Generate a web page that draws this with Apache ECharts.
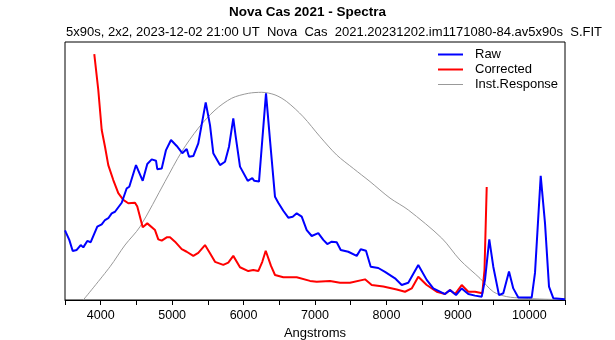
<!DOCTYPE html>
<html><head><meta charset="utf-8">
<script src="https://cdn.jsdelivr.net/npm/echarts@6/dist/echarts.min.js"></script>
<style>html,body{margin:0;padding:0;background:#fff}#c{width:615px;height:340px}</style>
</head><body><div id="c"></div>
<script>
const titleText = 'Nova Cas 2021 - Spectra';
const subText = '5x90s, 2x2, 2023-12-02 21:00 UT  Nova  Cas  2021.20231202.im1171080-84.av5x90s  S.FIT';
const xName = 'Angstroms';
const seriesNames = ['Raw', 'Corrected', 'Inst.Response'];
const xTicks = [4000, 5000, 6000, 7000, 8000, 9000, 10000];

const rawWl = [3500,3514,3560,3608,3664,3720,3756,3812,3860,3952,4014,4060,4106,4154,4200,4294,4364,4400,4494,4588,4652,4714,4774,4792,4854,4914,4984,5064,5142,5204,5236,5296,5366,5470,5530,5576,5670,5740,5796,5856,5890,5950,6058,6122,6150,6216,6262,6314,6370,6440,6486,6556,6626,6688,6744,6814,6884,6954,7046,7116,7172,7234,7304,7360,7466,7584,7640,7714,7780,7886,7980,8120,8214,8306,8446,8564,8656,8820,8890,8974,9054,9146,9240,9334,9380,9440,9496,9576,9636,9716,9776,9846,10034,10080,10160,10220,10276,10336,10500];
const rawVal = [27.0,26.1,23.3,19.0,19.4,21.3,20.4,22.9,22.4,28.4,29.3,31.0,31.7,33.6,34.2,37.7,43.3,43.9,52.3,46.2,52.7,54.5,54.0,50.7,51.0,58.1,62.0,59.7,56.9,58.5,55.5,55.8,60.7,76.6,67.8,56.9,52.3,53.6,59.4,70.4,63.3,51.7,46.2,47.2,46.2,45.9,62.0,80.1,62.0,40.0,37.7,34.6,31.9,32.3,33.6,32.3,27.1,24.8,25.9,23.3,21.7,22.6,22.4,19.4,18.7,17.1,19.7,19.1,12.9,12.4,10.9,8.4,5.8,6.7,13.6,7.8,4.5,2.3,3.9,1.9,4.5,2.3,1.7,1.3,7.8,23.5,12.9,1.9,2.6,11.0,4.5,1.0,1.0,10.5,48.1,29.8,5.2,0.7,0.3];

const corrWl = [3910,3966,4014,4060,4106,4176,4246,4316,4386,4480,4512,4588,4652,4760,4806,4854,4924,4970,5040,5134,5204,5296,5366,5460,5530,5600,5716,5786,5856,5950,6066,6136,6206,6262,6310,6384,6440,6556,6744,6930,7024,7210,7350,7490,7700,7794,7956,8144,8260,8354,8446,8564,8704,8820,8890,8960,9054,9146,9240,9342,9373,9404];
const corrVal = [95.3,81.4,65.9,59.4,52.3,46.5,41.4,38.8,37.5,37.7,36.2,28.2,29.7,27.1,23.5,23.0,24.3,24.3,22.6,19.7,18.7,17.1,18.3,21.3,18.1,14.8,13.6,14.5,17.1,12.7,11.2,11.6,11.2,14.8,19.1,13.2,9.7,8.8,8.8,7.4,7.1,7.4,6.7,6.7,8.0,5.8,5.2,4.1,3.2,4.5,9.0,5.8,3.2,2.3,3.9,2.3,5.8,3.2,3.2,2.6,11.6,43.8];

const respWl = [3756,4130,4340,4550,4900,5134,5366,5600,5834,6066,6254,6440,6604,6836,7070,7304,7536,7770,8050,8306,8774,9030,9310,9496,9684,9912,10220,10500];
const respVal = [0,12.9,21.3,28.4,45.9,57.5,66.6,73.6,78.2,80.1,80.5,79.5,76.9,71.0,63.3,56.2,51.0,45.9,39.5,34.9,24.0,15.5,8.4,3.2,1.3,0.7,0.3,0.2];

const zip = (a, b) => a.map((x, i) => [x, b[i]]);
const FONT = '"Liberation Sans", Arial, sans-serif';
const colors = ['#0000ff', '#ff0000', '#999999'];
const widths = [2, 2, 1];
const legendTops = [48, 63, 78];

const chart = echarts.init(document.getElementById('c'), null, {renderer: 'canvas'});
chart.setOption({
  animation: false,
  backgroundColor: '#fff',
  title: [
    {text: titleText, left: 'center', top: 5, padding: 0, textStyle: {fontFamily: FONT, fontSize: 13.5, fontWeight: 'bold', color: '#000'}},
    {text: subText, left: 66, top: 26, padding: 0, textStyle: {fontFamily: FONT, fontSize: 13, fontWeight: 'normal', color: '#000'}}
  ],
  legend: seriesNames.map((n, i) => ({
    orient: 'vertical', left: 438, top: legendTops[i], padding: 0,
    itemWidth: 25, itemHeight: widths[i],
    textStyle: {fontFamily: FONT, fontSize: 13, color: '#000', padding: [0, 0, 0, 7]},
    data: [{name: n, icon: 'rect', itemStyle: {color: colors[i]}}]
  })),
  grid: {left: 65, right: 50, top: 42, bottom: 40, containLabel: false, outerBoundsMode: 'none',
    show: true, borderColor: '#000', borderWidth: 1, backgroundColor: 'transparent'},
  xAxis: {
    type: 'value', min: 3500, max: 10500, interval: 500,
    name: xName, nameLocation: 'middle', nameGap: 23,
    nameTextStyle: {fontFamily: FONT, fontSize: 13, color: '#000'},
    axisLine: {lineStyle: {color: '#000', width: 1}},
    axisTick: {show: true, length: 5, lineStyle: {color: '#000'}},
    axisLabel: {fontFamily: FONT, fontSize: 12.5, color: '#000', margin: 9,
      formatter: v => xTicks.indexOf(v) >= 0 ? String(v) : ''},
    splitLine: {show: false}
  },
  yAxis: {type: 'value', min: 0, max: 100, show: false, splitLine: {show: false}},
  series: [
    {name: seriesNames[0], type: 'line', data: zip(rawWl, rawVal), symbol: 'none', showSymbol: false,
      lineStyle: {color: colors[0], width: widths[0]}, itemStyle: {color: colors[0]}, z: 3},
    {name: seriesNames[1], type: 'line', data: zip(corrWl, corrVal), symbol: 'none', showSymbol: false,
      lineStyle: {color: colors[1], width: widths[1]}, itemStyle: {color: colors[1]}, z: 2},
    {name: seriesNames[2], type: 'line', data: zip(respWl, respVal), symbol: 'none', showSymbol: false, smooth: 0.3,
      lineStyle: {color: colors[2], width: widths[2]}, itemStyle: {color: colors[2]}, z: 1}
  ]
});
</script></body></html>
